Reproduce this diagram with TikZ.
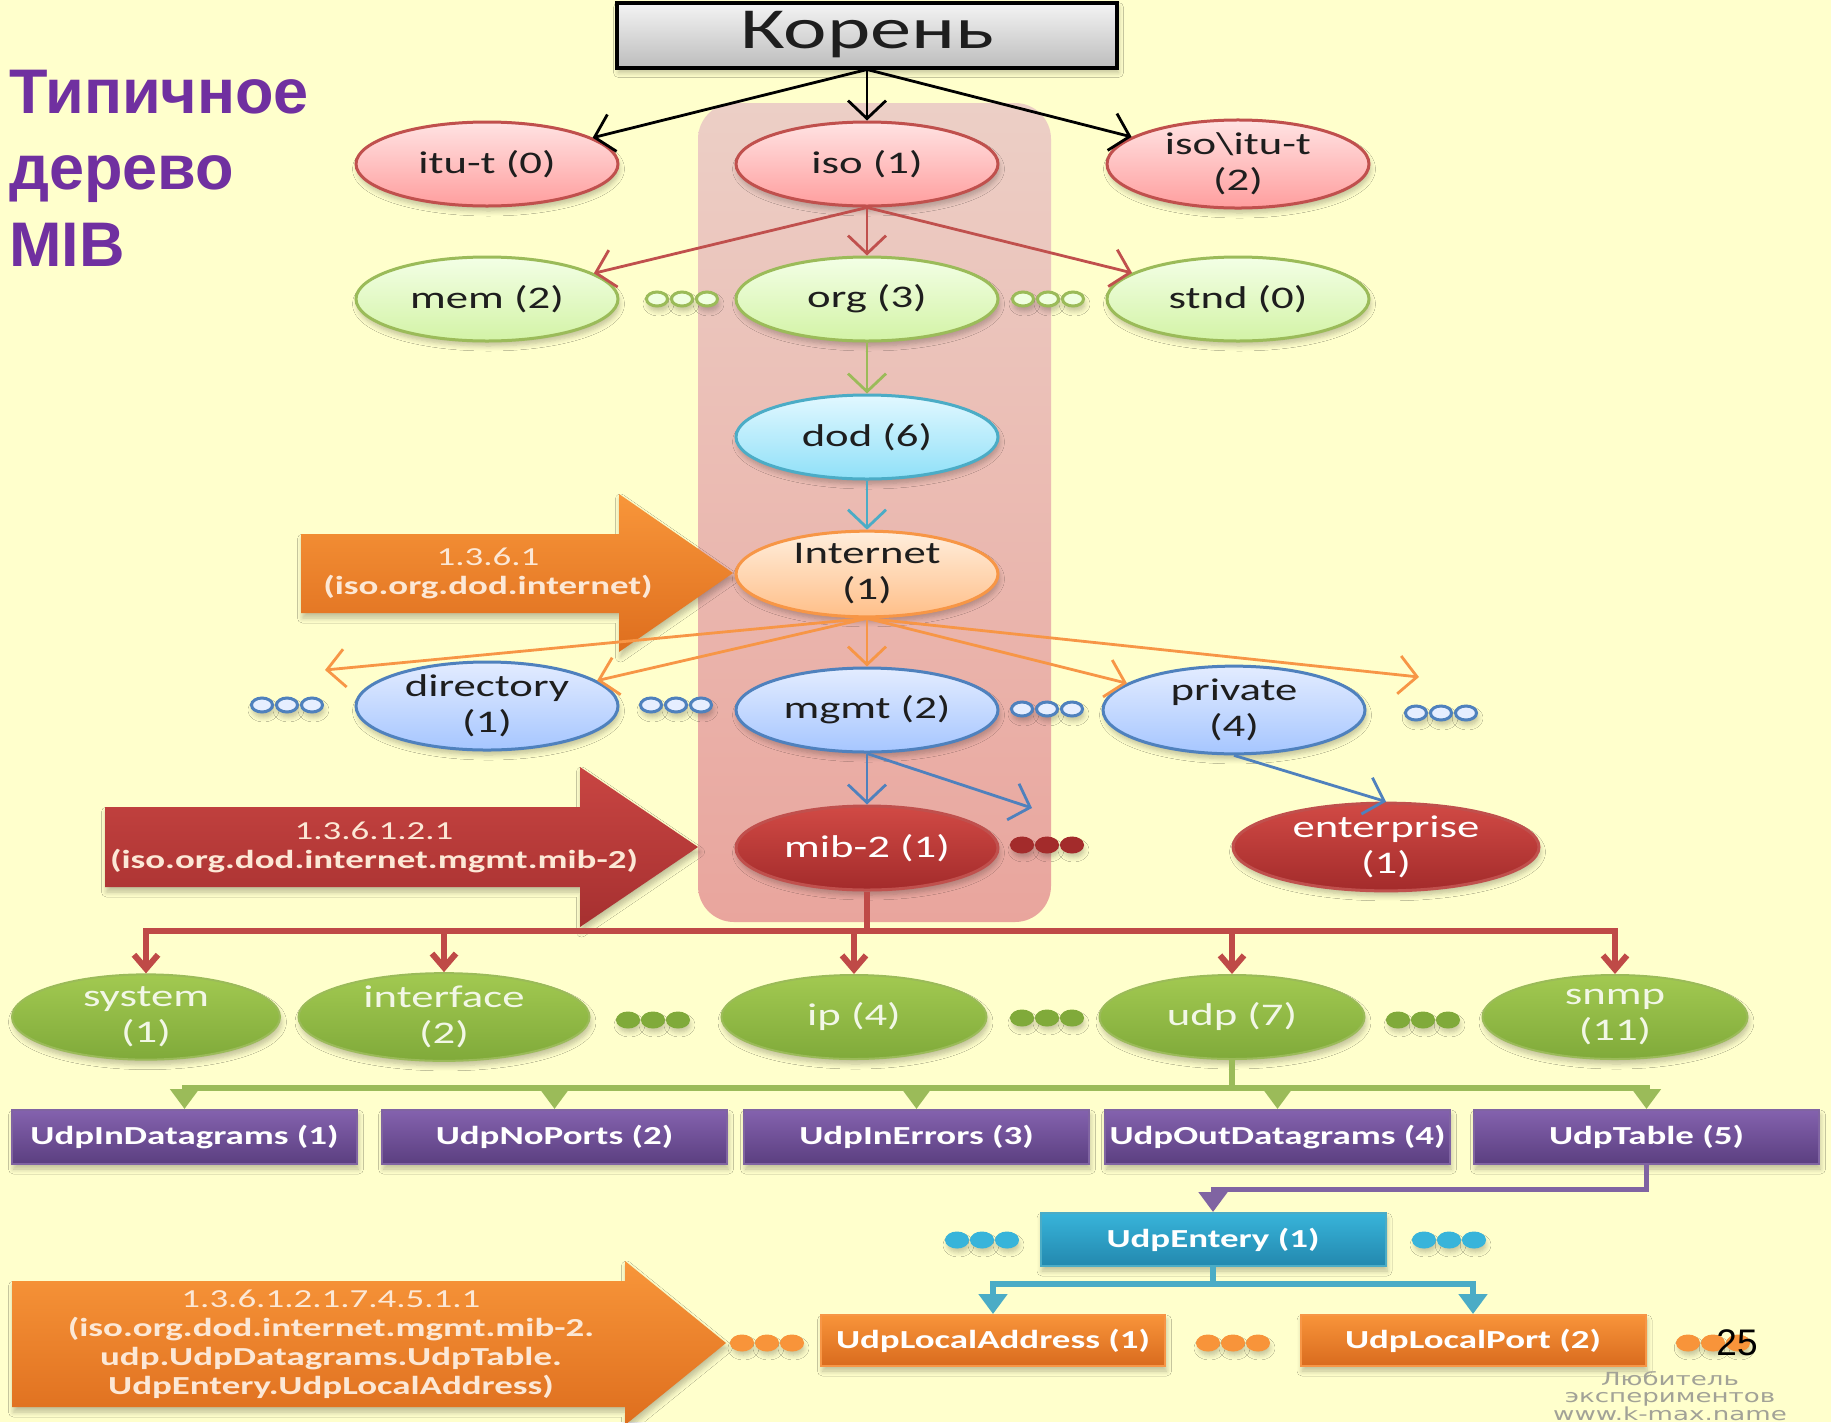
\documentclass[tikz,border=0pt]{standalone}
\usepackage{fontspec}
\setmainfont[FakeStretch=1.42]{Carlito}
\newfontfamily\headfont{Liberation Sans}
\newfontfamily\wmfont[FakeStretch=1.45]{DejaVu Sans}
\usetikzlibrary{shapes.geometric, arrows.meta, shadows.blur}

% palette
\definecolor{bg}{HTML}{FFFFCC}
\definecolor{ink}{HTML}{1E1E1E}
\definecolor{titlecol}{HTML}{7030A0}
\definecolor{rootT}{HTML}{F4F4F4}
\definecolor{rootB}{HTML}{BDBDBD}
\definecolor{redline}{HTML}{C0504D}
\definecolor{pinkT}{HTML}{FFE3E3}
\definecolor{pinkB}{HTML}{FF9E9E}
\definecolor{grnline}{HTML}{9BBB59}
\definecolor{lgrnT}{HTML}{F3FFE6}
\definecolor{lgrnB}{HTML}{D3F3A6}
\definecolor{cyanline}{HTML}{4BACC6}
\definecolor{dodT}{HTML}{E2F8FF}
\definecolor{dodB}{HTML}{8FE0F8}
\definecolor{orline}{HTML}{F79646}
\definecolor{inetT}{HTML}{FFEEDD}
\definecolor{inetB}{HTML}{FFBF88}
\definecolor{blline}{HTML}{4F81BD}
\definecolor{bluT}{HTML}{E3ECFF}
\definecolor{bluB}{HTML}{A6C6FF}
\definecolor{mibT}{HTML}{D14A45}
\definecolor{mibB}{HTML}{A32B2B}
\definecolor{grnT}{HTML}{A2C951}
\definecolor{grnB}{HTML}{80AA3A}
\definecolor{grntext}{HTML}{F2F7E6}
\definecolor{purT}{HTML}{8462AE}
\definecolor{purB}{HTML}{5B3F80}
\definecolor{purline}{HTML}{8064A2}
\definecolor{entT}{HTML}{38B4DA}
\definecolor{entB}{HTML}{2388AE}
\definecolor{orT}{HTML}{F8943A}
\definecolor{orB}{HTML}{D96B1E}
\definecolor{colT}{HTML}{ECCFC6}
\definecolor{colB}{HTML}{E9A59D}
\definecolor{arrOT}{HTML}{F8963A}
\definecolor{arrOB}{HTML}{DE6E1E}
\definecolor{arrRT}{HTML}{C84542}
\definecolor{arrRB}{HTML}{A63030}
\definecolor{arrtext}{HTML}{FCE8D6}
\definecolor{wmgray}{HTML}{A2A297}
\definecolor{busred}{HTML}{BF4A47}
\definecolor{opengrn}{HTML}{F0FFE0}
\definecolor{openblu}{HTML}{E6EEFF}

% three small dots in a row: x, y, fill, outline
\newcommand\dotrow[4]{%
  \foreach \k in {0,1,2}{%
    \filldraw[fill=#3, draw=#4, line width=3pt, softshadow]
      ({#1+25*\k},#2) ellipse [x radius=10.5pt, y radius=7pt];}}

\tikzset{
  softshadow/.style={blur shadow={shadow xshift=1.5pt, shadow yshift=-5pt,
      shadow blur radius=5pt, shadow blur steps=6, shadow opacity=25}},
  oval/.style={ellipse, draw, line width=3pt, minimum width=262pt,
      minimum height=84pt, inner sep=0pt, align=center,
      font=\fontsize{31.5}{36}\selectfont, text=ink, softshadow},
  pinkoval/.style={oval, draw=redline, top color=pinkT, bottom color=pinkB},
  lgrnoval/.style={oval, draw=grnline, top color=lgrnT, bottom color=lgrnB},
  dodoval/.style={oval, draw=cyanline, top color=dodT, bottom color=dodB},
  inetoval/.style={oval, draw=orline, top color=inetT, bottom color=inetB},
  bluoval/.style={oval, draw=blline, top color=bluT, bottom color=bluB},
  miboval/.style={oval, draw=redline, top color=mibT, bottom color=mibB, text=white},
  grnoval/.style={oval, draw=grnline, line width=2pt, top color=grnT,
      bottom color=grnB, text=grntext, minimum width=265pt},
  leafbox/.style={rectangle, draw, line width=2pt, minimum width=345pt,
      minimum height=54pt, inner sep=0pt, text=white,
      font=\bfseries\fontsize{26}{30}\selectfont, softshadow},
  purbox/.style={leafbox, draw=purline, top color=purT, bottom color=purB},
  entbox/.style={leafbox, draw=cyanline, top color=entT, bottom color=entB},
  orbox/.style={leafbox, draw=orline, top color=orT, bottom color=orB, minimum height=51pt},
  thinedge/.style={line width=2.8pt, -{Straight Barb[length=18pt,width=38pt]}},
  busline/.style={line width=6pt},
  redbus/.style={busline, draw=busred},
  reddrop/.style={redbus, -{Straight Barb[length=14pt,width=24pt]}},
  tridrop/.style={busline, -{Triangle[length=20pt,width=28pt]}},
  arrowtxt/.style={align=center, text=arrtext, inner sep=0pt,
      font=\fontsize{26}{29}\selectfont},
  titletxt/.style={anchor=base west, inner sep=0pt, text=titlecol,
      font=\headfont\bfseries\fontsize{63}{70}\selectfont},
}

\begin{document}
\begin{tikzpicture}[x=1pt, y=-1pt]
  \useasboundingbox (0,0) rectangle (1831,1422);
  \clip (0,0) rectangle (1831,1422);
  \fill[bg] (0,0) rectangle (1831,1422);

  % highlighted branch iso.org.dod.internet.mgmt.mib-2
  \path[rounded corners=36pt, top color=colT, bottom color=colB]
    (698,103) rectangle (1051,922);

  % heading
  \node[titletxt] (t1) at (9,113) {Типичное};
  \node[titletxt] (t2) at (9,189) {дерево};
  \node[titletxt] (t3) at (9,266) {MIB};

  % block arrows with OIDs
  \path[top color=arrOT, bottom color=arrOB, softshadow]
    (301,534) -- (619,534) -- (619,494) -- (733,573) -- (619,652)
    -- (619,613) -- (301,613) -- cycle;
  \node[arrowtxt] (oid1) at (488,573) {1.3.6.1\\\bfseries(iso.org.dod.internet)};

  \path[top color=arrRT, bottom color=arrRB, softshadow]
    (105,807) -- (580,807) -- (580,767) -- (698,847) -- (580,927)
    -- (580,887) -- (105,887) -- cycle;
  \node[arrowtxt] (oid2) at (374,847) {1.3.6.1.2.1\\\bfseries(iso.org.dod.internet.mgmt.mib-2)};

  \path[top color=arrOT, bottom color=arrOB, softshadow]
    (12,1281) -- (625,1281) -- (625,1261) -- (726,1343) -- (625,1425)
    -- (625,1407) -- (12,1407) -- cycle;
  \node[arrowtxt] (oid3) at (331,1344) {1.3.6.1.2.1.7.4.5.1.1\\
    \bfseries(iso.org.dod.internet.mgmt.mib-2.\\
    \bfseries udp.UdpDatagrams.UdpTable.\\
    \bfseries UdpEntery.UdpLocalAddress)};

  % root
  \node[rectangle, draw=black, line width=4pt, top color=rootT, bottom color=rootB,
        minimum width=500pt, minimum height=65pt, inner sep=0pt, softshadow,
        font=\fontsize{58}{60}\selectfont, text=ink] (root) at (867,35) {Корень};

  % upper levels
  \node[pinkoval] (itu)    at (487,164) {itu-t (0)};
  \node[pinkoval] (iso)    at (867,164) {iso (1)};
  \node[pinkoval] (isoitu) at (1238,164) {iso\textbackslash itu-t\\(2)};

  \node[lgrnoval] (mem)  at (487,299) {mem (2)};
  \node[lgrnoval] (org)  at (867,299) {org (3)};
  \node[lgrnoval] (stnd) at (1238,299) {stnd (0)};

  \node[dodoval]  (dod)  at (867,437) {dod (6)};
  \node[inetoval] (inet) at (867,574) {Internet\\(1)};

  \node[bluoval] (dir)  at (487,706) {directory\\(1)};
  \node[bluoval] (mgmt) at (867,710) {mgmt (2)};
  \node[bluoval] (priv) at (1234,710) {private\\(4)};

  \node[miboval] (mib) at (867,848) {mib-2 (1)};
  \node[miboval, minimum width=306pt, minimum height=82pt] (ent) at (1386,847) {enterprise\\(1)};

  % mib-2 groups
  \node[grnoval, minimum width=268pt] (sys)   at (146,1017) {system\\(1)};
  \node[grnoval, minimum width=291pt] (iface) at (444,1017) {interface\\(2)};
  \node[grnoval] (ip)   at (854,1017) {ip (4)};
  \node[grnoval] (udp)  at (1232,1017) {udp (7)};
  \node[grnoval] (snmp) at (1615,1017) {snmp\\(11)};

  % udp objects
  \node[purbox] (inDg)  at (184.5,1137) {UdpInDatagrams (1)};
  \node[purbox] (noP)   at (554.5,1137) {UdpNoPorts (2)};
  \node[purbox] (inErr) at (916.5,1137) {UdpInErrors (3)};
  \node[purbox] (outDg) at (1277.5,1137) {UdpOutDatagrams (4)};
  \node[purbox] (tab)   at (1646.5,1137) {UdpTable (5)};

  \node[entbox, minimum height=53pt] (entry) at (1213,1239.5) {UdpEntery (1)};

  \node[orbox, minimum width=344pt] (laddr) at (993,1340.5) {UdpLocalAddress (1)};
  \node[orbox] (lport) at (1473,1340.5) {UdpLocalPort (2)};

  % connectors: root and iso
  \draw[thinedge, black] (root.south) -- (itu);
  \draw[thinedge, black] (root.south) -- (iso);
  \draw[thinedge, black] (root.south) -- (isoitu);

  \draw[thinedge, redline] (iso.south) -- (mem);
  \draw[thinedge, redline] (iso.south) -- (org);
  \draw[thinedge, redline] (iso.south) -- (stnd);

  \draw[thinedge, grnline] (org) -- (dod);
  \draw[thinedge, cyanline] (dod) -- (inet);

  % internet subtree
  \coordinate (lfree) at (325,670);
  \coordinate (rfree) at (1419,677);
  \draw[thinedge, orline] (inet.south) -- (lfree);
  \draw[thinedge, orline] (inet.south) -- (dir);
  \draw[thinedge, orline] (inet.south) -- (mgmt);
  \draw[thinedge, orline] (inet.south) -- (priv);
  \draw[thinedge, orline] (inet.south) -- (rfree);

  \coordinate (mfree) at (1032,808);
  \draw[thinedge, blline] (mgmt.south) -- (mib);
  \draw[thinedge, blline] (mgmt.south) -- (mfree);
  \draw[thinedge, blline] (priv.south) -- (ent.north);

  % mib-2 bus
  \coordinate (rbus) at (867,931);
  \draw[redbus] (mib.south) -- (rbus);
  \draw[redbus, line cap=rect] (sys.north |- rbus) -- (snmp.north |- rbus);
  \foreach \n in {sys,iface,ip,udp,snmp}
    \draw[reddrop] (\n.north |- rbus) -- (\n.north);

  % udp bus
  \coordinate (gbus) at (1232,1088);
  \draw[busline, grnline] (udp.south) -- (gbus);
  \draw[busline, grnline, line cap=rect] (inDg.north |- gbus) -- (tab.north |- gbus);
  \foreach \n in {inDg,noP,inErr,outDg,tab}
    \draw[tridrop, grnline] (\n.north |- gbus) -- (\n.north);

  % UdpTable -> UdpEntery
  \coordinate (pbend) at (1646.5,1189);
  \draw[tridrop, purline, line width=5pt] (tab.south) -- (pbend) -| (entry.north);

  % UdpEntery bus
  \coordinate (cbus) at (1213,1284);
  \draw[busline, cyanline] (entry.south) -- (cbus);
  \draw[busline, cyanline, line cap=rect] (laddr.north |- cbus) -- (lport.north |- cbus);
  \foreach \n in {laddr,lport}
    \draw[tridrop, cyanline] (\n.north |- cbus) -- (\n.north);

  % elided siblings
  \dotrow{657}{299}{opengrn}{grnline}
  \dotrow{1023}{299}{opengrn}{grnline}
  \dotrow{262}{705}{openblu}{blline}
  \dotrow{651}{705}{openblu}{blline}
  \dotrow{1022}{709}{openblu}{blline}
  \dotrow{1416}{713}{openblu}{blline}
  \dotrow{1022}{845}{mibB}{mibB}
  \dotrow{628}{1020}{grnB}{grnB}
  \dotrow{1022}{1018}{grnB}{grnB}
  \dotrow{1398}{1020}{grnB}{grnB}
  \dotrow{957}{1240}{entT}{entT}
  \dotrow{1424}{1240}{entT}{entT}
  \dotrow{742}{1343}{orT}{orT}
  \dotrow{1208}{1343}{orT}{orT}
  \dotrow{1688}{1343}{orT}{orT}

  % page number and signature
  \node[inner sep=0pt, font=\headfont\fontsize{37}{40}\selectfont] (pg) at (1737,1343) {25};
  \node[inner sep=0pt, align=center, text=wmgray, font=\wmfont\fontsize{18}{17.5}\selectfont]
    (wm) at (1670,1396) {Любитель\\экспериментов\\www.k-max.name};
\end{tikzpicture}
\end{document}
